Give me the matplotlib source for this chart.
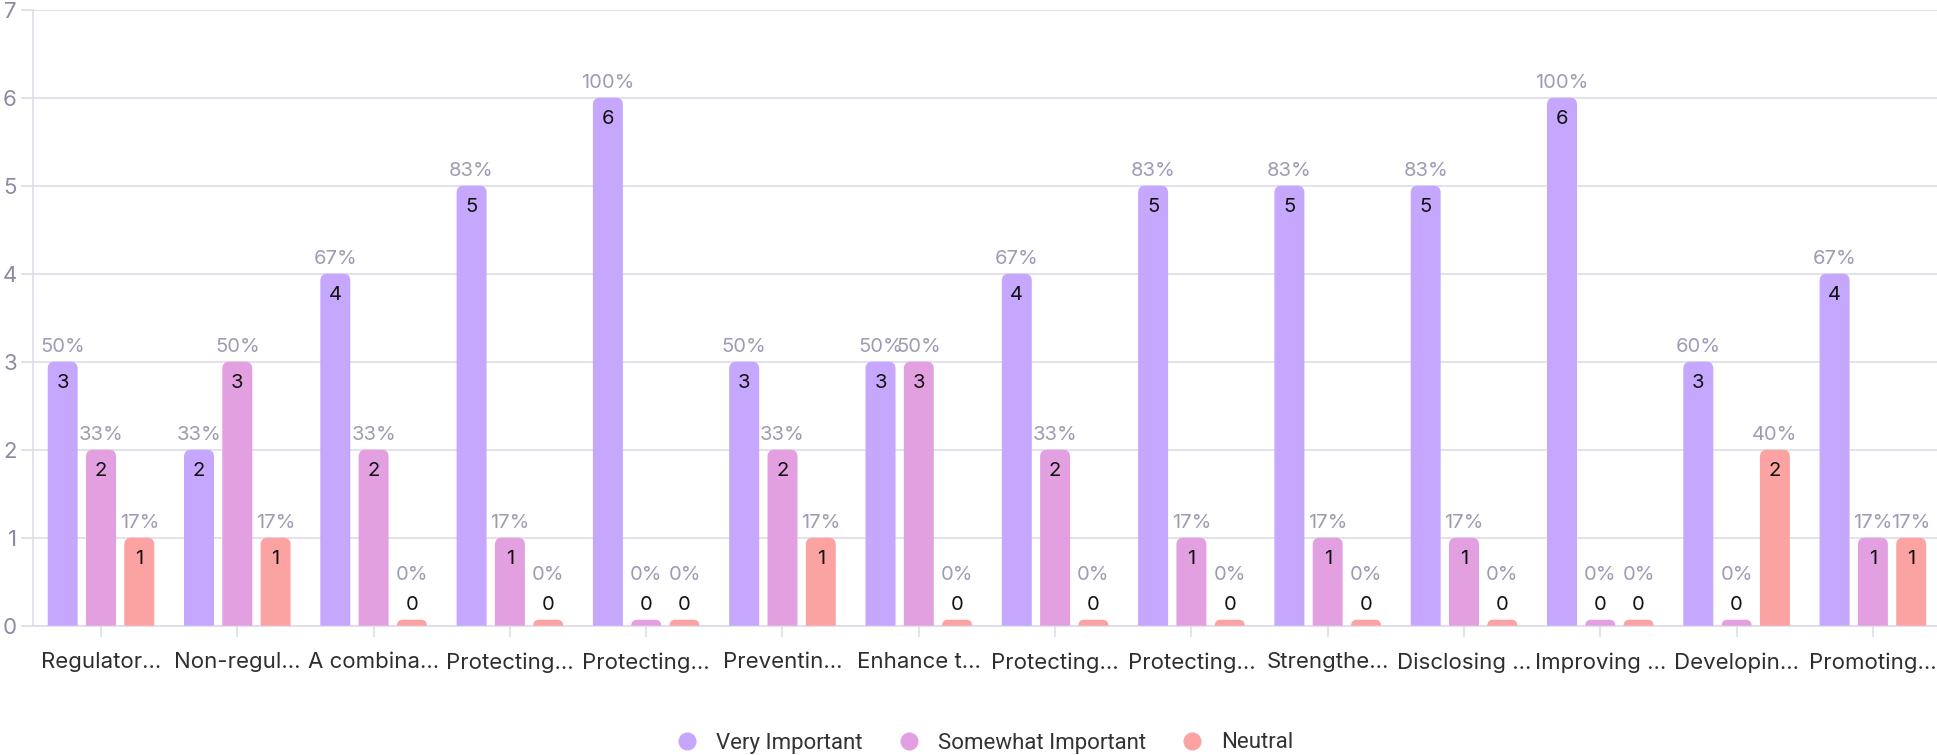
import matplotlib
matplotlib.use("Agg")
import matplotlib.pyplot as plt
from matplotlib.patches import PathPatch
from matplotlib.path import Path
from matplotlib.lines import Line2D

plt.rcParams['font.family'] = ['Inter', 'DejaVu Sans']

# data
categories = ["Regulator...", "Non-regul...", "A combina...", "Protecting...", "Protecting...",
              "Preventin...", "Enhance t...", "Protecting...", "Protecting...", "Strengthe...",
              "Disclosing ...", "Improving ...", "Developin...", "Promoting..."]
very_important = [3, 2, 4, 5, 6, 3, 3, 4, 5, 5, 5, 6, 3, 4]
somewhat_important = [2, 3, 2, 1, 0, 2, 3, 2, 1, 1, 1, 0, 0, 1]
neutral = [1, 1, 0, 0, 0, 1, 0, 0, 0, 0, 0, 0, 2, 1]
series_names = ["Very Important", "Somewhat Important", "Neutral"]
colors = ["#c5a8fd", "#e3a0e1", "#fba3a2"]

W, H = 1937, 755
fig = plt.figure(figsize=(W / 100, H / 100), dpi=100)
ax_left, ax_right = 33, 1937
ax_top, ax_bot = 9.7, 625.7
ax = fig.add_axes([ax_left / W, (H - ax_bot) / H, (ax_right - ax_left) / W, (ax_bot - ax_top) / H])

step_px = 136.3
x0_px = 101
xmin = (ax_left - x0_px) / step_px
xmax = (ax_right - x0_px) / step_px
ax.set_xlim(xmin, xmax)
ax.set_ylim(0, 7)

# px -> data units
xu = (xmax - xmin) / (ax_right - ax_left)
yu = 7 / (ax_bot - ax_top)

grid_c = "#dddce9"
ax.set_yticks(range(0, 8))
ax.yaxis.grid(True, color=grid_c, linewidth=1.2, zorder=0)
ax.set_axisbelow(True)
for s in ["top", "right"]:
    ax.spines[s].set_visible(False)
for s in ["left", "bottom"]:
    ax.spines[s].set_color(grid_c)
    ax.spines[s].set_linewidth(1.2)
ax.tick_params(axis="y", length=8.6, width=1.2, color=grid_c, pad=3,
               labelsize=16, labelcolor="#8b8ba3")
ax.tick_params(axis="x", length=8, width=1.2, color=grid_c, pad=11,
               labelsize=16, labelcolor="#2e2e2e")
ax.set_xticks(range(len(categories)))
ax.set_xticklabels(categories)

bar_w = 30 * xu
offset = 38.3 * xu
radius_px = 7
stub_h = 6 * yu
px_to_pt = 0.72


def rounded_bar(xc, h, color):
    h_px = h / yu
    r_px = min(radius_px, h_px)
    rx, ry = r_px * xu, r_px * yu
    x0, x1 = xc - bar_w / 2, xc + bar_w / 2
    verts = [(x0, 0), (x0, h - ry), (x0, h), (x0 + rx, h), (x1 - rx, h),
             (x1, h), (x1, h - ry), (x1, 0), (x0, 0)]
    codes = [Path.MOVETO, Path.LINETO, Path.CURVE3, Path.CURVE3, Path.LINETO,
             Path.CURVE3, Path.CURVE3, Path.LINETO, Path.CLOSEPOLY]
    ax.add_patch(PathPatch(Path(verts, codes), facecolor=color, edgecolor="none", zorder=3))


all_series = [very_important, somewhat_important, neutral]
for si, vals in enumerate(all_series):
    for ci, v in enumerate(vals):
        total = very_important[ci] + somewhat_important[ci] + neutral[ci]
        pct = round(100 * v / total)
        xc = ci + (si - 1) * offset
        h = v if v > 0 else stub_h
        rounded_bar(xc, h, colors[si])
        if v > 0:
            num_off, pct_off = -26.6, 10
        else:
            num_off, pct_off = 10, 40
        ax.annotate("%d" % v, (xc, h), xytext=(0, num_off * px_to_pt), textcoords="offset points",
                    ha="center", va="baseline", fontsize=14.5, color="#111111", zorder=5)
        ax.annotate("%d%%" % pct, (xc, h), xytext=(0, pct_off * px_to_pt), textcoords="offset points",
                    ha="center", va="baseline", fontsize=14.5, color="#9d9cb4", zorder=5)

handles = [Line2D([], [], marker="o", linestyle="none", markersize=13,
                  markerfacecolor=c, markeredgecolor="none") for c in colors]
fig.legend(handles, series_names, loc="center", bbox_to_anchor=(979 / W, (H - 743) / H),
           ncol=3, frameon=False, labelcolor="#333333",
           handletextpad=0.3, columnspacing=1.1, prop={"family": ["Roboto", "DejaVu Sans"], "size": 16})

fig.savefig("out.png", dpi=100)
